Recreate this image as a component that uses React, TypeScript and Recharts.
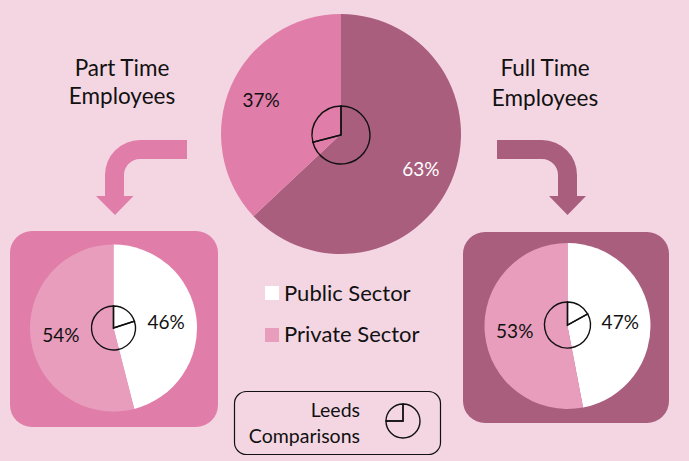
import React from 'react';
import { PieChart, Pie, Cell } from 'recharts';

const allCategories = ['Full Time', 'Part Time'];
const allValues = [63, 37];
const allLeeds = [71, 29];

const sectors = ['Public Sector', 'Private Sector'];
const partTimeValues = [46, 54];
const partTimeLeeds = [20, 80];
const fullTimeValues = [47, 53];
const fullTimeLeeds = [17, 83];

const keyNames = ['Rest', 'Quarter'];
const keyValues = [75, 25];

const toRows = (names: string[], values: number[]) =>
  names.map((name, i) => ({ name, value: values[i] }));

const BG = '#f4d6e3';
const DARK = '#a95e7d';
const MID = '#e07da8';
const LIGHT = '#e89dbc';
const FONT = 'Lato, "Open Sans", sans-serif';

// percent labels sit inside the slice at a fixed distance from the centre
const percentLabel = (dist: number, colors: string[]) => (props: any) => {
  const rad = (-props.midAngle * Math.PI) / 180;
  return (
    <text
      x={props.cx + dist * Math.cos(rad)}
      y={props.cy + dist * Math.sin(rad)}
      textAnchor="middle"
      dominantBaseline="central"
      fill={colors[props.index]}
      fontSize={19}
      fontFamily={FONT}
    >
      {props.value}%
    </text>
  );
};

const outlinePie = (key: string, rows: { name: string; value: number }[], cx: number, cy: number, r: number) => (
  <Pie
    key={key}
    data={rows}
    dataKey="value"
    cx={cx}
    cy={cy}
    outerRadius={r}
    startAngle={90}
    endAngle={-270}
    fill="none"
    stroke="#111"
    strokeWidth={1.4}
    isAnimationActive={false}
  />
);

const labelStyle: React.CSSProperties = { fontFamily: FONT, fill: '#111' };

export default function App() {
  return (
    <div style={{ position: 'absolute', left: 0, top: 0, width: 689, height: 461, background: BG, overflow: 'hidden' }}>
      <div style={{ position: 'absolute', left: 10, top: 231, width: 208, height: 196, borderRadius: 22, background: MID }} />
      <div style={{ position: 'absolute', left: 463, top: 232, width: 206, height: 191, borderRadius: 22, background: DARK }} />

      <svg width={689} height={461} style={{ position: 'absolute', left: 0, top: 0 }}>
        <path fill={MID} d="M187 140 L140 140 A35 35 0 0 0 105 175 L105 196 L96 196 L115 215 L133.5 196 L124 196 L124 175 A16 16 0 0 1 140 159 L187 159 Z" />
        <path fill={DARK} d="M497 140 L542 140 A35 35 0 0 1 577 175 L577 196 L586 196 L567.5 215 L549 196 L558 196 L558 175 A16 16 0 0 0 542 159 L497 159 Z" />

        <g fontSize={22.5} textAnchor="middle" style={labelStyle}>
          <text x={122} y={76}>Part Time</text>
          <text x={122} y={104}>Employees</text>
          <text x={545} y={76}>Full Time</text>
          <text x={545} y={106}>Employees</text>
        </g>

        <rect x={265} y={286} width={14} height={14} fill="#fff" />
        <rect x={265} y={328} width={14} height={14} fill={LIGHT} />
        <g fontSize={22} style={labelStyle}>
          <text x={284} y={301}>{sectors[0]}</text>
          <text x={284} y={342}>{sectors[1]}</text>
        </g>

        <rect x={234.5} y={391.5} width={206} height={63} rx={12} fill="none" stroke="#111" strokeWidth={1.2} />
        <g fontSize={19.5} textAnchor="end" style={labelStyle}>
          <text x={360} y={417}>Leeds</text>
          <text x={360} y={443}>Comparisons</text>
        </g>
      </svg>

      <div style={{ position: 'absolute', left: 0, top: 0 }}>
        <PieChart width={689} height={461} margin={{ top: 0, right: 0, bottom: 0, left: 0 }}>
          <Pie
            data={toRows(allCategories, allValues)}
            dataKey="value"
            cx={341}
            cy={134}
            outerRadius={120}
            startAngle={90}
            endAngle={-270}
            stroke="none"
            labelLine={false}
            label={percentLabel(87, ['#fff', '#111'])}
            isAnimationActive={false}
          >
            <Cell fill={DARK} />
            <Cell fill={MID} />
          </Pie>
          <Pie
            data={toRows(sectors, partTimeValues)}
            dataKey="value"
            cx={113.5}
            cy={328}
            outerRadius={83.5}
            startAngle={90}
            endAngle={-270}
            stroke="none"
            labelLine={false}
            label={percentLabel(53, ['#111', '#111'])}
            isAnimationActive={false}
          >
            <Cell fill="#fff" />
            <Cell fill={LIGHT} />
          </Pie>
          <Pie
            data={toRows(sectors, fullTimeValues)}
            dataKey="value"
            cx={567.5}
            cy={326}
            outerRadius={83}
            startAngle={90}
            endAngle={-270}
            stroke="none"
            labelLine={false}
            label={percentLabel(53, ['#111', '#111'])}
            isAnimationActive={false}
          >
            <Cell fill="#fff" />
            <Cell fill={LIGHT} />
          </Pie>
          {outlinePie('leeds-all', toRows(allCategories, allLeeds), 341, 135, 29)}
          {outlinePie('leeds-part', toRows(sectors, partTimeLeeds), 113.5, 328, 22)}
          {outlinePie('leeds-full', toRows(sectors, fullTimeLeeds), 567.5, 325, 23)}
          {outlinePie('leeds-key', toRows(keyNames, keyValues), 403, 421, 17)}
        </PieChart>
      </div>
    </div>
  );
}
